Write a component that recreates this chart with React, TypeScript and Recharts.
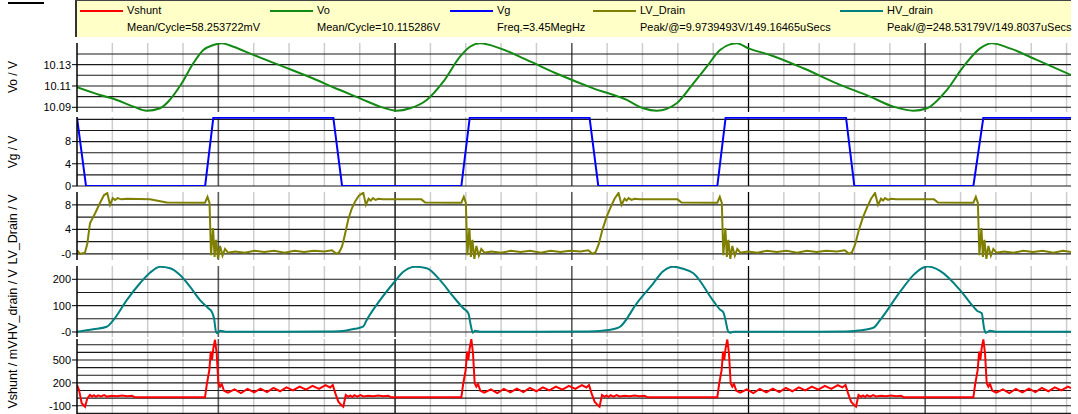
import { LineChart, Line, XAxis, YAxis, ReferenceLine } from 'recharts';

const FONT = '"Liberation Sans", Arial, Helvetica, sans-serif';
const WIDTH = 1078;
// room above and below each plot so edge tick labels are not clipped
const PAD = 8;

// capture window, ns from the left edge of the plot
const timeSpan: [number, number] = [0, 1125];
const minorTimeGrid = [40, 80, 120, 160, 200, 240, 280, 320, 360, 400, 440, 480, 520, 560, 600, 640, 680, 720, 760, 800, 840, 880, 920, 960, 1000, 1040, 1080, 1120];
const majorTimeGrid = [160, 560, 960];
const blackTimeGrid = [360, 760];

// [t ns, V]
const voPoints = [
  [0, 10.1088], [26, 10.1015], [45, 10.0969], [64, 10.0906], [79, 10.0868], [94, 10.0891], [105, 10.0969], [118.5, 10.1125],
  [131.6, 10.1313], [143, 10.1438], [154.3, 10.1484], [163.8, 10.15], [177, 10.1468], [199.6, 10.1391], [233.5, 10.1281],
  [271.3, 10.1156], [290, 10.1088], [320.3, 10.0984], [343, 10.0906], [361.9, 10.0868], [377, 10.0891], [395.8, 10.0969],
  [414.6, 10.114], [433.5, 10.1375], [444.8, 10.1468], [456.2, 10.15], [478.8, 10.1453], [509, 10.1344], [546.7, 10.1203],
  [584.4, 10.1078], [622.2, 10.0969], [641, 10.0891], [656.2, 10.0868], [678.8, 10.0938], [697.6, 10.1125], [712.8, 10.1281],
  [727.8, 10.1438], [746.7, 10.15], [759.8, 10.1453], [784.4, 10.1391], [822.1, 10.1266], [859.9, 10.1125], [897.6, 10.1],
  [924, 10.0906], [946.6, 10.0868], [961.8, 10.0891], [984.4, 10.1062], [1003.2, 10.1281], [1022.1, 10.1453], [1035.3, 10.15],
  [1056, 10.1453], [1086.3, 10.1344], [1125, 10.1203],
];

const vgPoints = [
  [0, 12.3], [10.2, 0], [145, 0], [154.3, 12.3], [290.1, 12.3], [300, 0], [435, 0], [444.5, 12.3], [580.1, 12.3], [590, 0],
  [724.7, 0], [734.1, 12.3], [870.4, 12.3], [879.8, 0], [1014.5, 0], [1025.8, 12.3], [1125, 12.3],
];

const lvPoints = [
  [0, 0.6], [3.4, 0], [9, 0.2], [11.7, 1.7], [14.7, 5.0], [20.4, 6.6], [26, 8.3], [30.6, 9.6], [34.3, 9.92], [37.4, 8.0],
  [40.5, 9.1], [43, 8.8], [46, 9.1], [50, 8.9], [56.6, 9.0], [82.6, 8.9], [101.5, 8.4], [144.9, 8.35],
  [147.7, 9.3], [150, 8.3], [151.7, -0.2], [154, 4.2], [155.7, -0.5], [157.4, 2.3], [159.6, -0.8], [161.9, 1.3], [164.7, -0.3],
  [167.5, 0.8], [170.9, 0.2], [179, 0.4], [190, 0.2], [201, 0.5], [212, 0.3], [223, 0.5], [235, 0.2], [246, 0.5], [257, 0.3],
  [268, 0.5], [280, 0.4], [288.6, 0.6],
  [293.5, 0], [296.9, 0.3], [300, 1.2], [303, 3.0], [307, 5.6], [311, 7.4], [315, 8.6], [319, 9.5], [324, 9.9739], [327, 8.0],
  [330, 9.0], [332.5, 8.7], [335, 9.1], [338, 8.8], [341, 9.0], [346, 8.9], [389.7, 8.9], [394.1, 8.4], [435, 8.35],
  [437.8, 9.3], [440.1, 8.3], [441.8, -0.2], [444.1, 4.2], [445.8, -0.5], [447.5, 2.3], [449.7, -0.8], [452, 1.3], [454.8, -0.3],
  [457.6, 0.8], [461, 0.2], [469, 0.4], [480, 0.2], [491, 0.5], [502, 0.3], [513, 0.5], [525, 0.2], [536, 0.5], [547, 0.3],
  [558, 0.5], [570, 0.4], [578.6, 0.6],
  [583.5, 0], [586.9, 0.3], [590.3, 1.5], [594.8, 4.0], [599.3, 6.0], [603.9, 7.6], [608.4, 9.0], [612.9, 9.95], [616.3, 8.0],
  [619.7, 9.0], [622, 8.7], [624.2, 9.1], [627.6, 8.8], [631, 9.0], [636.7, 8.9], [679.7, 8.9], [684.1, 8.4], [724.7, 8.35],
  [727.5, 9.3], [729.8, 8.3], [731.5, -0.2], [733.8, 4.2], [735.5, -0.5], [737.2, 2.3], [739.4, -0.8], [741.7, 1.3], [744.5, -0.3],
  [747.3, 0.8], [750.7, 0.2], [759, 0.4], [770, 0.2], [781, 0.5], [792, 0.3], [803, 0.5], [815, 0.2], [826, 0.5], [837, 0.3],
  [848, 0.5], [860, 0.4], [868.9, 0.6],
  [873.8, 0], [877.2, 0.3], [880.6, 1.5], [885.1, 4.0], [889.6, 6.0], [894.2, 7.6], [898.7, 9.0], [903.2, 9.94], [906.6, 8.0],
  [910, 9.0], [912.3, 8.7], [914.5, 9.1], [917.9, 8.8], [921.3, 9.0], [927, 8.9], [970, 8.9], [974.4, 8.4], [1014.5, 8.35],
  [1017.3, 9.3], [1019.6, 8.3], [1021.3, -0.2], [1023.6, 4.2], [1025.3, -0.5], [1027, 2.3], [1029.2, -0.8], [1031.5, 1.3],
  [1034.3, -0.3], [1037.1, 0.8], [1040.5, 0.2], [1049, 0.4], [1060, 0.2], [1071, 0.5], [1082, 0.3], [1093, 0.5], [1105, 0.2],
  [1116, 0.5], [1125, 0.3],
];

const hvPoints = [
  [0, 1], [18.4, 10], [33.6, 20], [41.1, 45], [56.3, 121], [71.3, 185], [82.6, 225], [94, 247.2], [105.3, 242], [116.6, 216],
  [127.9, 172], [139.2, 121], [148.6, 90], [152.5, 77], [155.1, 52], [157.3, 1], [158.8, -5], [161.9, 5], [169.4, 1], [230, 1],
  [290.1, 2], [303.3, 5], [314.7, 12], [323.7, 20], [327.8, 45], [343, 121], [358, 185], [369.3, 229], [382.6, 247.6],
  [395.8, 242], [410.9, 197], [425.9, 134], [437.2, 90], [442.9, 71], [446, 20], [447.9, -3], [450.5, 5], [456.2, 1], [520, 1],
  [580.1, 2], [592, 4], [610.8, 14], [614.6, 20], [633.5, 109], [652.3, 185], [662.7, 229], [675, 247.9], [686, 240],
  [697.6, 223], [720.2, 118], [727.8, 85], [731.5, 75], [733.5, 52], [737.2, 1], [739.9, -3], [742.9, 1], [800, 1],
  [870.4, 2], [880.6, 4], [901.3, 16], [908.9, 45], [931.6, 153], [946.6, 216], [955, 240], [963, 248.53], [976.8, 232],
  [999.5, 159], [1014.5, 96], [1019, 80], [1024, 71], [1026.6, 14], [1028.5, -3], [1033.4, 5], [1041, 1], [1125, 1],
];

// [t ns, mV]
const vshuntPoints = [
  [0, 172], [2.3, 106], [5.3, -68], [9.1, -113], [11.7, -3], [14.7, 41], [17, 20], [19.2, 38], [21.5, 18], [23.8, 36],
  [27.2, 22], [30.6, 40], [34, 20], [39.6, 32], [45.3, 24], [50.9, 35], [56.6, 26], [62.3, 30], [65.6, 10], [144.9, 10],
  [146.8, 172], [149.8, 369], [151.4, 609], [152.8, 500], [154.3, 654], [156.2, 765], [158.1, 588], [160, 194], [161.9, 150],
  [163.8, 185], [166.4, 97], [170.9, 71], [178.3, 115], [185.6, 65], [193, 120], [200.4, 75], [207.7, 125], [215.1, 80],
  [222.4, 135], [229.8, 90], [237.1, 140], [244.5, 100], [251.9, 150], [259.2, 110], [266.6, 160], [273.9, 120], [281.3, 170],
  [286.4, 140], [289.5, 172],
  [292.4, 63], [295.8, -47], [299.2, -91], [301.4, -113], [304.2, 41], [307.1, 18], [309.3, 35], [311.6, 15], [313.9, 38],
  [317.3, 20], [320.7, 40], [324.1, 22], [329.7, 30], [335.4, 24], [341, 34], [346.7, 26], [352.4, 30], [355.7, 10], [435, 10],
  [436.9, 172], [439.9, 369], [441.5, 609], [442.9, 500], [444.4, 654], [446.3, 772], [448.2, 588], [450.1, 194], [452, 150],
  [453.9, 185], [456.5, 97], [461, 71], [468.4, 115], [475.7, 65], [483.1, 120], [490.5, 75], [497.8, 125], [505.2, 80],
  [512.5, 135], [519.9, 90], [527.2, 140], [534.6, 100], [542, 150], [549.3, 110], [556.7, 160], [564, 120], [571.4, 170],
  [576.5, 140], [579.5, 172],
  [582.4, 63], [585.8, -47], [589.2, -91], [591.4, -113], [594.2, 41], [597.1, 18], [599.3, 35], [601.6, 15], [603.9, 38],
  [607.3, 20], [610.7, 40], [614.1, 22], [619.7, 30], [625.4, 24], [631, 34], [636.7, 26], [642.4, 30], [645.7, 10], [724.7, 10],
  [726.6, 172], [729.6, 369], [731.2, 609], [732.6, 500], [734.1, 654], [736, 768], [737.9, 588], [739.8, 194], [741.7, 150],
  [743.6, 185], [746.2, 97], [750.7, 71], [758.1, 115], [765.4, 65], [772.8, 120], [780.2, 75], [787.5, 125], [794.9, 80],
  [802.2, 135], [809.6, 90], [816.9, 140], [824.3, 100], [831.7, 150], [839, 110], [846.4, 160], [853.7, 120], [861.1, 170],
  [866.2, 140], [869.8, 172],
  [872.7, 63], [876.1, -47], [879.5, -91], [881.7, -113], [884.5, 41], [887.4, 18], [889.6, 35], [891.9, 15], [894.2, 38],
  [897.6, 20], [901, 40], [904.4, 22], [910, 30], [915.7, 24], [921.3, 34], [927, 26], [932.7, 30], [936, 10], [1014.5, 10],
  [1016.4, 172], [1019.4, 369], [1021, 609], [1022.4, 500], [1023.9, 654], [1025.8, 770], [1027.7, 588], [1029.6, 194],
  [1031.5, 150], [1033.4, 185], [1036, 97], [1040.5, 71], [1047.9, 115], [1055.2, 65], [1062.6, 120], [1070, 75], [1077.3, 125],
  [1084.7, 80], [1092, 135], [1099.4, 90], [1106.7, 140], [1114.1, 100], [1121.5, 150], [1125, 130],
];

const voTicks = [10.09, 10.11, 10.13];
const voTickLabels = ['10.09', '10.11', '10.13'];
const voGrid = [10.09, 10.1, 10.11, 10.12, 10.13, 10.14];

const vgTicks = [0, 4, 8];
const vgTickLabels = ['0', '4', '8'];
const vgGrid = [0, 2, 4, 6, 8, 10, 12];

const lvTicks = [0, 4, 8];
const lvTickLabels = ['-0', '4', '8'];
const lvGrid = [0, 2, 4, 6, 8];

const hvTicks = [0, 100, 200];
const hvTickLabels = ['-0', '100', '200'];
const hvGrid = [0, 50, 100, 150, 200];

const vshuntTicks = [-100, 200, 500];
const vshuntTickLabels = ['-100', '200', '500'];
const vshuntGrid = [-300, -200, -100, 0, 100, 200, 300, 400, 500, 600, 700];

const legendNames = ['Vshunt', 'Vo', 'Vg', 'LV_Drain', 'HV_drain'];
const legendStats = [
  'Mean/Cycle=58.253722mV',
  'Mean/Cycle=10.115286V',
  'Freq.=3.45MegHz',
  'Peak/@=9.9739493V/149.16465uSecs',
  'Peak/@=248.53179V/149.8037uSecs',
];
const legendColors = ['#ff0000', '#138a13', '#0000ff', '#808000', '#008080'];
const legendLeft = [80, 270, 450, 593, 840];

interface PanelProps {
  top: number;
  height: number;
  points: number[][];
  color: string;
  domain: [number, number];
  ticks: number[];
  tickLabels: string[];
  grid: number[];
  curve: 'linear' | 'monotone';
}

function Panel({ top, height, points, color, domain, ticks, tickLabels, grid, curve }: PanelProps) {
  const data = points.map(([t, v]) => ({ t, v }));
  return (
    <div style={{ position: 'absolute', left: 0, top: top - PAD, width: WIDTH, height: height + 2 * PAD }}>
      <LineChart width={WIDTH} height={height + 2 * PAD} data={data} margin={{ top: PAD, right: 7, bottom: PAD, left: 0 }}>
        <XAxis dataKey="t" type="number" domain={timeSpan} hide allowDataOverflow />
        <YAxis
          type="number"
          domain={domain}
          ticks={ticks}
          interval={0}
          allowDataOverflow
          width={77}
          tickFormatter={(v: number) => tickLabels[ticks.indexOf(v)] ?? String(v)}
          tick={{ fill: '#000', fontSize: 11, fontFamily: FONT }}
          tickSize={5}
          tickMargin={1}
          axisLine={{ stroke: '#000', strokeWidth: 1.5 }}
          tickLine={{ stroke: '#000' }}
        />
        {minorTimeGrid.map((t) => <ReferenceLine key={`m${t}`} x={t} stroke="#cdcdcd" strokeWidth={1.5} />)}
        {majorTimeGrid.map((t) => <ReferenceLine key={`M${t}`} x={t} stroke="#5a5a5a" strokeWidth={1.5} />)}
        {blackTimeGrid.map((t) => <ReferenceLine key={`B${t}`} x={t} stroke="#000" strokeWidth={1.2} />)}
        {grid.map((v) => <ReferenceLine key={`y${v}`} y={v} stroke="#1a1a1a" strokeWidth={1.1} />)}
        <Line dataKey="v" type={curve} stroke={color} strokeWidth={2} dot={false} isAnimationActive={false} />
      </LineChart>
    </div>
  );
}

function Legend() {
  return (
    <div
      style={{
        position: 'absolute', left: 75, top: 0, width: 996, height: 37, background: '#ffffc8',
        borderLeft: '2px solid #333', borderTop: '1px solid #444', boxSizing: 'border-box',
        fontFamily: FONT, fontSize: 11, color: '#000',
      }}
    >
      {legendNames.map((name, i) => (
        <div key={name}>
          <div style={{ position: 'absolute', left: legendLeft[i] - 77, top: 9, width: 43, height: 2, background: legendColors[i] }} />
          <div style={{ position: 'absolute', left: legendLeft[i] - 77 + 47, top: 3, lineHeight: '13px', whiteSpace: 'nowrap' }}>{name}</div>
          <div style={{ position: 'absolute', left: legendLeft[i] - 77 + 47, top: 20, lineHeight: '13px', whiteSpace: 'nowrap' }}>{legendStats[i]}</div>
        </div>
      ))}
    </div>
  );
}

const axisTitles = [
  { text: 'Vo / V', y: 77, size: 12 },
  { text: 'Vg / V', y: 152, size: 12 },
  { text: 'LV_Drain / V', y: 229.5, size: 12.5 },
  { text: 'HV_drain / V', y: 304.5, size: 12.5 },
  { text: 'Vshunt / mV', y: 374.5, size: 12.5 },
];

export default function App() {
  return (
    <div style={{ position: 'fixed', left: 0, top: 0, width: WIDTH, height: 414, overflow: 'hidden', background: '#fff' }}>
      <div style={{ position: 'absolute', left: 8, top: 2, width: 36, height: 2, background: '#000' }} />
      <Legend />
      <Panel top={43} height={69} points={voPoints} color="#138a13" domain={[10.0856, 10.1503]}
        ticks={voTicks} tickLabels={voTickLabels} grid={voGrid} curve="monotone" />
      <Panel top={117} height={69} points={vgPoints} color="#0000ff" domain={[0, 12.43]}
        ticks={vgTicks} tickLabels={vgTickLabels} grid={vgGrid} curve="linear" />
      <Panel top={192} height={68} points={lvPoints} color="#808000" domain={[-1, 10.1]}
        ticks={lvTicks} tickLabels={lvTickLabels} grid={lvGrid} curve="linear" />
      <Panel top={266} height={71} points={hvPoints} color="#008080" domain={[-19, 250.5]}
        ticks={hvTicks} tickLabels={hvTickLabels} grid={hvGrid} curve="monotone" />
      <Panel top={339} height={82} points={vshuntPoints} color="#ff0000" domain={[-300, 775]}
        ticks={vshuntTicks} tickLabels={vshuntTickLabels} grid={vshuntGrid} curve="linear" />
      <svg width={WIDTH} height={414} style={{ position: 'absolute', left: 0, top: 0, pointerEvents: 'none' }}>
        {axisTitles.map((a) => (
          <text key={a.text} x={13} y={a.y} transform={`rotate(-90 13 ${a.y})`} textAnchor="middle"
            dominantBaseline="central" fontFamily={FONT} fontSize={a.size} fill="#000">
            {a.text}
          </text>
        ))}
      </svg>
    </div>
  );
}
